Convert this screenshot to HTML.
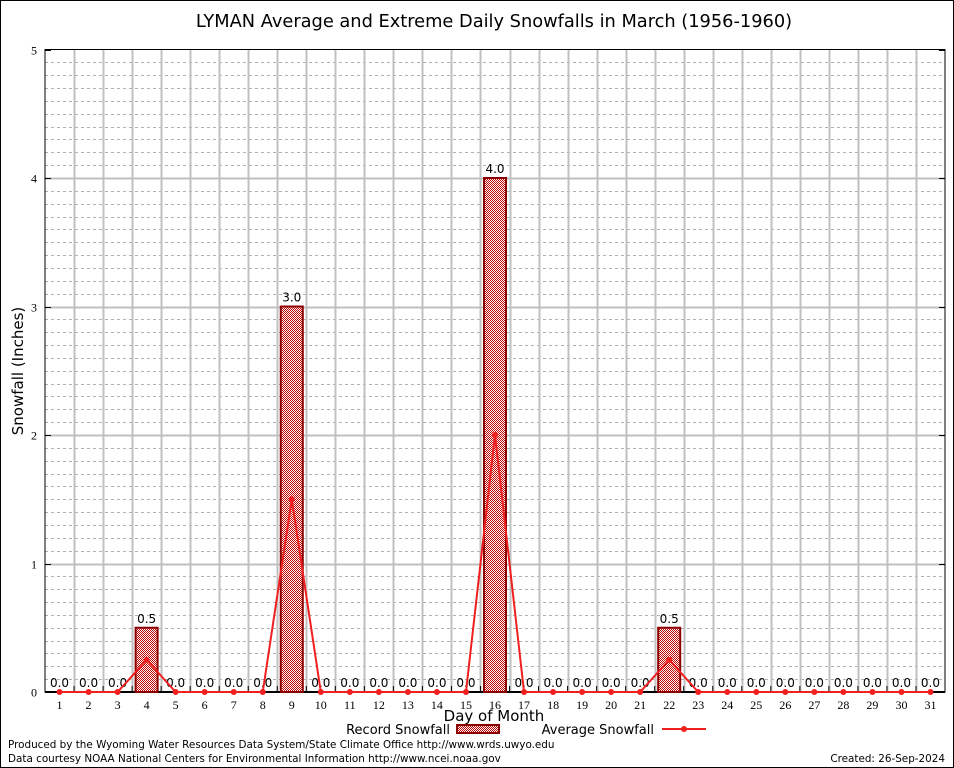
<!DOCTYPE html>
<html><head><meta charset="utf-8"><style>
body{margin:0;background:#fff}
svg{display:block;font-family:"DejaVu Sans","Liberation Sans",sans-serif}
</style></head><body>
<svg id="c" width="954" height="768" viewBox="0 0 954 768">
<defs>
<pattern id="hatch" width="2" height="2" patternUnits="userSpaceOnUse">
<rect width="2" height="2" fill="#fff"/>
<rect width="1" height="1" fill="#c00000"/>
<rect x="1" y="1" width="1" height="1" fill="#c00000"/>
</pattern>
</defs>
<rect x="0.5" y="0.5" width="953" height="767" fill="#fff" stroke="#000"/>
<text x="494" y="27" font-size="17.8" text-anchor="middle">LYMAN Average and Extreme Daily Snowfalls in March (1956-1960)</text>
<g id="grid"></g>
<g id="marks"></g>
<text x="23" y="371" font-size="15" text-anchor="middle" transform="rotate(-90 23 371)">Snowfall (Inches)</text>
<text x="494" y="721" font-size="15" text-anchor="middle">Day of Month</text>
<g>
<text x="450" y="734" font-size="13" text-anchor="end">Record Snowfall</text>
<rect x="457" y="725" width="42" height="8" fill="url(#hatch)" stroke="#8b0000" stroke-width="2"/>
</g>
<g>
<text x="654" y="734" font-size="13" text-anchor="end">Average Snowfall</text>
<line x1="662" y1="729" x2="706" y2="729" stroke="#f02020" stroke-width="2"/>
<circle cx="684" cy="729" r="3" fill="#f02020"/>
</g>
<text x="8" y="748" font-size="10.4">Produced by the Wyoming Water Resources Data System/State Climate Office http://www.wrds.uwyo.edu</text>
<text x="8" y="762" font-size="10.4">Data courtesy NOAA National Centers for Environmental Information http://www.ncei.noaa.gov</text>
<text x="945" y="762" font-size="10.4" text-anchor="end">Created:  26-Sep-2024</text>
</svg>
<script>
const days = [];
for (let i = 1; i <= 31; i++) days.push(i);
const recordValues = [0,0,0,0.5,0,0,0,0,3.0,0,0,0,0,0,0,4.0,0,0,0,0,0,0.5,0,0,0,0,0,0,0,0,0];
const averageValues = [0,0,0,0.25,0,0,0,0,1.5,0,0,0,0,0,0,2.0,0,0,0,0,0,0.25,0,0,0,0,0,0,0,0,0];
const yTicks = [0,1,2,3,4,5];

const NS = "http://www.w3.org/2000/svg";
const L = 45, R = 945, T = 49.5, B = 692, YMAX = 5;
const step = (R - L) / days.length;
const xs = d => L + (d - 0.5) * step;
const ys = v => B - v / YMAX * (B - T);
function mk(tag, attrs, parent) {
  const e = document.createElementNS(NS, tag);
  for (const k in attrs) e.setAttribute(k, attrs[k]);
  parent.appendChild(e); return e;
}
const grid = document.getElementById('grid');
const marks = document.getElementById('marks');
for (let i = 1; i < YMAX * 10; i++) {
  if (i % 10 === 0) continue;
  const y = Math.round(ys(i / 10)) + 0.5;
  const ln = mk('line', {x1: L, x2: R, y1: y, y2: y, stroke: '#b0b0b0', 'stroke-dasharray': '3,3', 'stroke-width': 1}, grid);
  
  
}
for (let k = 1; k < days.length; k++) {
  const x = Math.round(L + k * step) + 0.5;
  const ln = mk('line', {x1: x, x2: x, y1: T, y2: B, stroke: '#c0c0c0', 'stroke-width': 2}, grid);
  
  
}
yTicks.forEach(v => {
  const y = Math.round(ys(v)) + 0.5;
  if (v > 0 && v < YMAX) {
    const ln = mk('line', {x1: L, x2: R, y1: y, y2: y, stroke: '#c0c0c0', 'stroke-width': 2}, grid);
    
    
  }
  const t = mk('text', {x: 37, y: y + 4, 'font-size': 12, 'text-anchor': 'end', 'font-family': 'Liberation Serif,serif'}, grid);
  t.textContent = v;
  
  
  mk('line', {x1: L, x2: L + 6, y1: y, y2: y, stroke: '#000'}, grid);
  mk('line', {x1: R, x2: R - 6, y1: y, y2: y, stroke: '#000'}, grid);
});
const box = mk('rect', {x: L, y: T, width: R - L, height: B - T, fill: 'none', stroke: '#000', 'stroke-width': 1}, grid);


mk('line', {x1: L, x2: R, y1: B, y2: B, stroke: '#000', 'stroke-width': 2}, grid);
days.forEach((d, i) => {
  const x = xs(d);
  const t = mk('text', {x: x, y: B + 17, 'font-size': 12, 'text-anchor': 'middle', 'font-family': 'Liberation Serif,serif'}, grid);
  t.textContent = d;
  
  
  mk('line', {x1: L + (i + 1) * step, x2: L + (i + 1) * step, y1: B, y2: B - 6, stroke: '#000'}, grid);
});
days.forEach((d, i) => {
  const v = recordValues[i];
  const x = xs(d);
  if (v > 0) {
    const r = mk('rect', {x: x - 11, y: ys(v), width: 22, height: B - ys(v), fill: 'url(#hatch)', stroke: '#8b0000', 'stroke-width': 2}, marks);
    
    
  }
  const t = mk('text', {x: x, y: ys(v) - 5, 'font-size': 12, 'text-anchor': 'middle'}, marks);
  t.textContent = v.toFixed(1);
  
  
});
const pts = days.map((d, i) => xs(d) + ',' + ys(averageValues[i])).join(' ');
const pl = mk('polyline', {points: pts, fill: 'none', stroke: '#f02020', 'stroke-width': 2}, marks);


days.forEach((d, i) => {
  const c = mk('circle', {cx: xs(d), cy: ys(averageValues[i]), r: 3, fill: '#f02020'}, marks);
  
  
});
</script>
</body></html>
